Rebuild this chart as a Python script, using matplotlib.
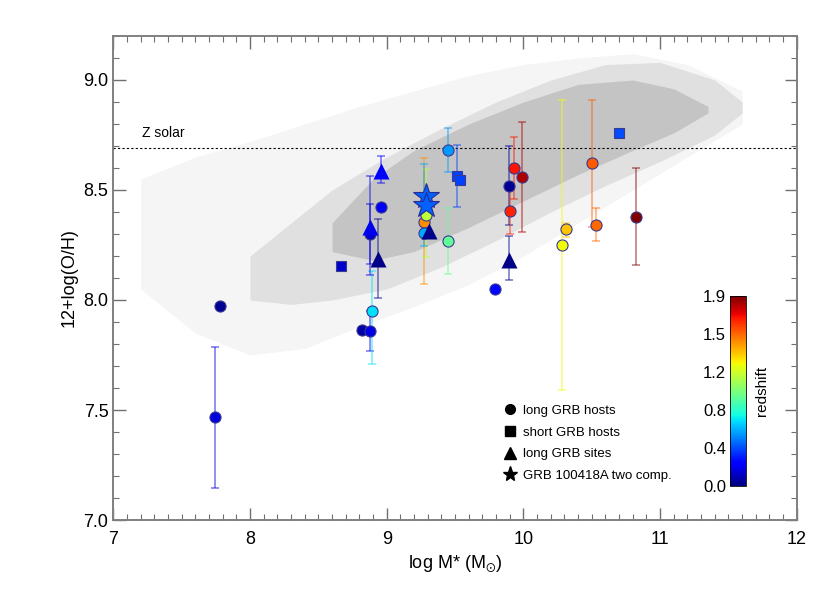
import numpy as np
import matplotlib.pyplot as plt
from matplotlib import cm, colors
from matplotlib.lines import Line2D

plt.rcParams['font.family'] = ['Liberation Sans', 'DejaVu Sans']
plt.rcParams['mathtext.default'] = 'regular'

outer_mass = [7.2, 7.6, 8.0, 8.4, 8.8, 9.2, 9.6, 10.0, 10.4, 10.8, 11.2, 11.6]
outer_lo = [8.05, 7.85, 7.75, 7.78, 7.88, 7.97, 8.07, 8.2, 8.35, 8.5, 8.65, 8.8]
outer_hi = [8.55, 8.65, 8.72, 8.8, 8.88, 8.95, 9.02, 9.07, 9.1, 9.12, 9.07, 8.95]

mid_mass = [8.0, 8.3, 8.6, 9.0, 9.4, 9.8, 10.2, 10.6, 11.0, 11.4, 11.6]
mid_lo = [8.0, 7.98, 8.0, 8.05, 8.15, 8.27, 8.4, 8.52, 8.63, 8.75, 8.85]
mid_hi = [8.2, 8.35, 8.5, 8.65, 8.78, 8.9, 9.0, 9.07, 9.08, 9.0, 8.9]

core_mass = [8.6, 8.9, 9.2, 9.6, 10.0, 10.4, 10.8, 11.1, 11.35]
core_lo = [8.22, 8.18, 8.22, 8.33, 8.45, 8.57, 8.68, 8.76, 8.85]
core_hi = [8.35, 8.55, 8.68, 8.8, 8.9, 8.98, 9.0, 8.96, 8.88]

# --- long GRB hosts (circles) ---
lh_mass = [7.745, 7.784, 8.82, 8.877, 8.892, 8.88, 8.955, 9.275, 9.29, 9.275,
           9.448, 9.448, 9.79, 9.892, 9.899, 9.929, 9.99, 10.283, 10.31,
           10.505, 10.533, 10.825]
lh_oh = [7.467, 7.973, 7.864, 7.86, 7.95, 8.30, 8.421, 8.356, 8.386, 8.306,
         8.27, 8.682, 8.051, 8.52, 8.405, 8.598, 8.56, 8.249, 8.321,
         8.621, 8.341, 8.379]
lh_z = [0.15, 0.03, 0.06, 0.17, 0.66, 0.12, 0.20, 1.44, 1.10, 0.55,
        0.89, 0.52, 0.25, 0.03, 1.66, 1.69, 1.82, 1.22, 1.33,
        1.55, 1.52, 1.90]
lh_lo = [7.147, np.nan, np.nan, 7.768, 7.708, 8.164, np.nan, 8.071, 8.197, 8.245,
         8.118, 8.58, np.nan, 8.341, 8.30, 8.459, 8.308, 7.59, 8.288,
         8.333, 8.268, 8.159]
lh_hi = [7.785, np.nan, np.nan, 7.95, 8.13, 8.436, np.nan, 8.644, 8.595, 8.62,
         8.417, 8.78, np.nan, 8.70, 8.50, 8.74, 8.81, 8.909, 8.349,
         8.908, 8.417, 8.599]

# --- short GRB hosts (squares) ---
sh_mass = [8.665, 9.515, 9.535, 10.70]
sh_oh = [8.155, 8.565, 8.547, 8.76]
sh_z = [0.13, 0.36, 0.36, 0.38]
sh_lo = [np.nan, 8.421, np.nan, np.nan]
sh_hi = [np.nan, 8.705, np.nan, np.nan]

# --- long GRB sites (triangles) ---
ls_mass = [8.955, 8.88, 8.934, 9.31, 9.894]
ls_oh = [8.588, 8.33, 8.185, 8.314, 8.18]
ls_z = [0.22, 0.18, 0.02, 0.02, 0.02]
ls_lo = [8.533, 8.114, 8.008, np.nan, 8.09]
ls_hi = [8.656, 8.565, 8.367, np.nan, 8.292]

# --- GRB 100418A two components (stars) ---
st_mass = [9.285, 9.29]
st_oh = [8.473, 8.432]
st_z = [0.42, 0.42]

z_solar = 8.69
cbar_labels = ['0.0', '0.4', '0.8', '1.2', '1.5', '1.9']
legend_labels = ['long GRB hosts', 'short GRB hosts', 'long GRB sites',
                 'GRB 100418A two comp.']

norm = colors.Normalize(vmin=0, vmax=1.9)
cmap = plt.get_cmap('jet')

fig = plt.figure(figsize=(8.3, 5.93), dpi=100)
ax = fig.add_axes([0.1365, 0.1231, 0.8235, 0.8162])

ax.fill_between(outer_mass, outer_lo, outer_hi, color='#f5f5f5', lw=0, zorder=0)
ax.fill_between(mid_mass, mid_lo, mid_hi, color='#e0e0e0', lw=0, zorder=0)
ax.fill_between(core_mass, core_lo, core_hi, color='#c4c4c4', lw=0, zorder=0)

ax.axhline(z_solar, color='k', ls=(0, (2, 2)), lw=0.8, zorder=1)
ax.text(7.21, 8.76, 'Z solar', fontsize=10, va='center')


def draw_group(mass, oh, z, lo, hi, marker, ms, edge):
    for i in range(len(mass)):
        c = cmap(norm(z[i]))
        if lo is not None and np.isfinite(lo[i]):
            yerr = [[oh[i] - lo[i]], [hi[i] - oh[i]]]
            ax.errorbar(mass[i], oh[i], yerr=yerr, fmt='none', ecolor=c,
                        alpha=0.55, elinewidth=1.1, capsize=2.8, capthick=1.1,
                        zorder=2)
        ax.plot(mass[i], oh[i], marker=marker, ms=ms, mfc=c, mec=edge,
                mew=0.8, ls='none', zorder=3)


draw_group(lh_mass, lh_oh, lh_z, lh_lo, lh_hi, 'o', 8, '#3a3a90')
draw_group(sh_mass, sh_oh, sh_z, sh_lo, sh_hi, 's', 7.5, '#3a3a90')
draw_group(ls_mass, ls_oh, ls_z, ls_lo, ls_hi, '^', 11, 'none')
draw_group(st_mass, st_oh, st_z, None, None, '*', 19, '#2a2a90')

ax.set_xlim(7, 12)
ax.set_ylim(7.0, 9.2)
ax.set_xticks([7, 8, 9, 10, 11, 12])
ax.set_yticks([7.0, 7.5, 8.0, 8.5, 9.0])
ax.set_yticklabels(['7.0', '7.5', '8.0', '8.5', '9.0'])
ax.set_xticks(np.arange(7, 12.01, 0.1), minor=True)
ax.set_yticks(np.arange(7, 9.201, 0.1), minor=True)
ax.tick_params(which='both', direction='in', top=True, right=True,
               color='#707070', labelsize=13)
ax.tick_params(which='major', length=9, width=1)
ax.tick_params(which='minor', length=4, width=0.8)
ax.tick_params(axis='x', pad=8)
for s in ax.spines.values():
    s.set_color('#808080')
    s.set_linewidth(1.4)
ax.set_xlabel('log M* (M$_{\\odot}$)', fontsize=13)
ax.set_ylabel('12+log(O/H)', fontsize=13)

handles = [Line2D([], [], marker='o', color='k', ls='none', ms=7),
           Line2D([], [], marker='s', color='k', ls='none', ms=7),
           Line2D([], [], marker='^', color='k', ls='none', ms=8),
           Line2D([], [], marker='*', color='k', ls='none', ms=11)]
ax.legend(handles, legend_labels, loc='upper left', frameon=False,
          bbox_to_anchor=(0.561, 0.252), fontsize=9.5, handlelength=1.0,
          handletextpad=0.5, labelspacing=0.72, borderpad=0)

cax = fig.add_axes([0.880, 0.1804, 0.0193, 0.320])
sm = cm.ScalarMappable(norm=norm, cmap=cmap)
cb = fig.colorbar(sm, cax=cax)
cb.set_ticks(np.linspace(0, 1.9, 6))
cb.set_ticklabels(cbar_labels)
cax.yaxis.set_ticks_position('left')
cax.tick_params(length=0, labelsize=12, pad=3)
cb.set_label('redshift', fontsize=11, labelpad=6)
cax.yaxis.set_label_position('right')
cb.outline.set_linewidth(0.6)

fig.savefig('out.png', dpi=100)
